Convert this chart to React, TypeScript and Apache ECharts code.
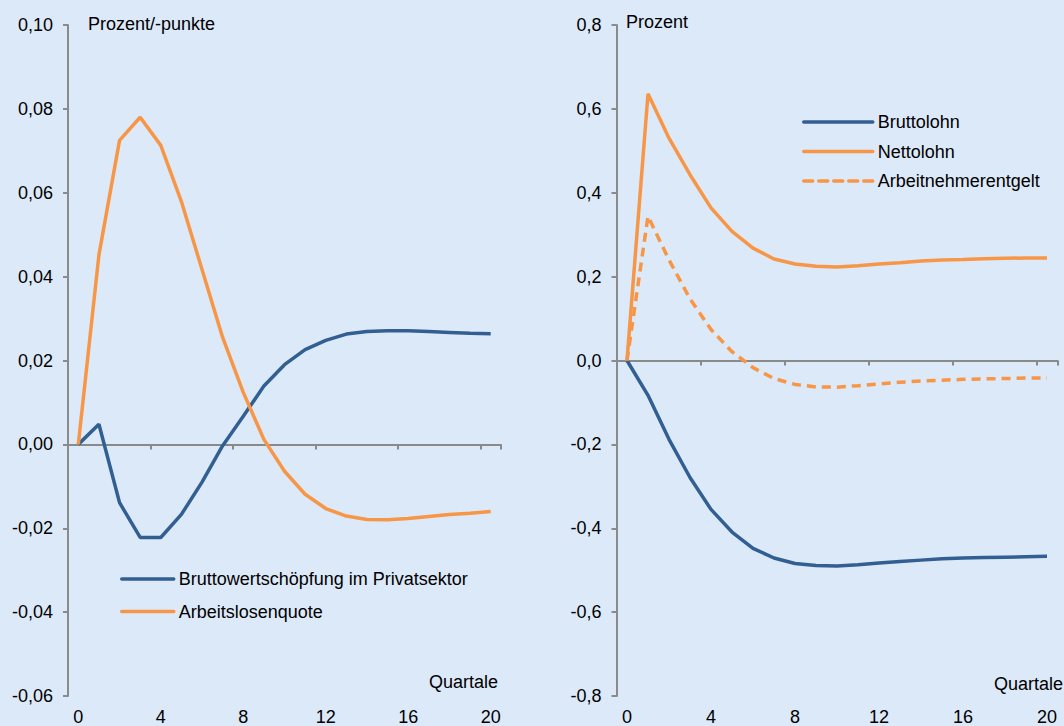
import React, { useEffect, useRef } from "react";
import * as echarts from "echarts";

const quarters = Array.from({ length: 21 }, (_, i) => String(i));

// Left panel (Prozent/-punkte)
const bruttowertschoepfung = [
  0, 0.0048, -0.0139, -0.0222, -0.0222, -0.0167, -0.009, -0.0003, 0.0067, 0.0139,
  0.019, 0.0226, 0.0248, 0.0263, 0.0269, 0.0271, 0.0271, 0.0269, 0.0267, 0.0265, 0.0264,
];
const arbeitslosenquote = [
  0, 0.0452, 0.0725, 0.078, 0.0713, 0.0579, 0.0417, 0.0255, 0.0124, 0.0012,
  -0.0064, -0.0119, -0.0153, -0.0171, -0.0179, -0.018, -0.0177, -0.0172, -0.0167, -0.0164, -0.016,
];

// Right panel (Prozent)
const bruttolohn = [
  0, -0.083, -0.188, -0.279, -0.355, -0.409, -0.448, -0.471, -0.484, -0.489,
  -0.49, -0.487, -0.483, -0.479, -0.476, -0.473, -0.471, -0.47, -0.469, -0.468, -0.467,
];
const nettolohn = [
  0, 0.636, 0.53, 0.443, 0.364, 0.308, 0.268, 0.242, 0.23, 0.2246,
  0.223, 0.226, 0.23, 0.233, 0.237, 0.2397, 0.241, 0.2429, 0.2437, 0.2444, 0.2444,
];
const arbeitnehmerentgelt = [
  0, 0.344, 0.24, 0.147, 0.074, 0.021, -0.017, -0.043, -0.057, -0.063,
  -0.0635, -0.06, -0.056, -0.052, -0.049, -0.047, -0.045, -0.0437, -0.043, -0.042, -0.042,
];

const leftTicks = { min: -0.06, max: 0.1, interval: 0.02 };
const rightTicks = { min: -0.8, max: 0.8, interval: 0.2 };

const BLUE = "#325f92";
const ORANGE = "#f79646";
const AXIS = "#8a8a8a";
const FONT = "Liberation Sans";
const FS = 18;
const LW = 3.5;

export default function App() {
  const ref = useRef<HTMLDivElement>(null);
  useEffect(() => {
    const chart = echarts.init(ref.current!, null, { renderer: "svg" });
    const xAxisLine = (gridIndex: number) => ({
      type: "category",
      gridIndex,
      data: quarters,
      boundaryGap: true,
      axisLine: { show: true, onZero: true, lineStyle: { color: AXIS, width: 2 } },
      axisTick: { show: true, interval: 3, length: 5, lineStyle: { color: AXIS, width: 2 } },
      axisLabel: { show: false },
      splitLine: { show: false },
    });
    const xAxisLabels = (gridIndex: number) => ({
      type: "category",
      gridIndex,
      data: quarters,
      boundaryGap: true,
      position: "bottom",
      axisLine: { show: false, onZero: false },
      axisTick: { show: false },
      axisLabel: { show: true, interval: 3, margin: 12, color: "#000", fontSize: FS, fontFamily: FONT },
      splitLine: { show: false },
    });
    const yAxis = (gridIndex: number, t: { min: number; max: number; interval: number }, dec: number) => ({
      type: "value",
      gridIndex,
      min: t.min,
      max: t.max,
      interval: t.interval,
      axisLine: { show: true, onZero: false, lineStyle: { color: AXIS, width: 2 } },
      axisTick: { show: true, length: 5, lineStyle: { color: AXIS, width: 2 } },
      axisLabel: {
        margin: 15,
        color: "#000",
        fontSize: FS,
        fontFamily: FONT,
        formatter: (v: number) => v.toFixed(dec).replace(".", ","),
      },
      splitLine: { show: false },
    });
    const line = (name: string, data: number[], xi: number, yi: number, color: string, dashed = false) => ({
      type: "line",
      name,
      data,
      xAxisIndex: xi,
      yAxisIndex: yi,
      symbol: "none",
      smooth: false,
      lineStyle: { color, width: LW, type: dashed ? [9, 6] : "solid" },
      itemStyle: { color },
      z: 3,
    });
    const legendBase = {
      orient: "vertical",
      itemHeight: 14,
      padding: 0,
      selectedMode: false,
      itemStyle: { opacity: 0 },
      lineStyle: { width: LW, cap: "round" },
      textStyle: { color: "#000", fontSize: FS, fontFamily: FONT },
    };
    chart.setOption({
      animation: false,
      backgroundColor: "#dce9f8",
      textStyle: { fontFamily: FONT },
      grid: [
        { left: 68, top: 25, width: 433, height: 672, containLabel: false },
        { left: 616.5, top: 25, width: 441, height: 672, containLabel: false },
      ],
      xAxis: [xAxisLine(0), xAxisLabels(0), xAxisLine(1), xAxisLabels(1)],
      yAxis: [yAxis(0, leftTicks, 2), yAxis(1, rightTicks, 1)],
      legend: [
        {
          ...legendBase,
          data: ["Bruttowertschöpfung im Privatsektor", "Arbeitslosenquote"],
          left: 120,
          top: 570,
          itemWidth: 52,
          itemGap: 14.5,
        },
        {
          ...legendBase,
          data: ["Bruttolohn", "Nettolohn", "Arbeitnehmerentgelt"],
          left: 802,
          top: 113,
          itemWidth: 69,
          itemGap: 11.5,
        },
      ],
      graphic: [
        { type: "text", left: 88, top: 15, style: { text: "Prozent/-punkte", fill: "#000", font: `${FS}px ${FONT}` } },
        { type: "text", left: 626, top: 13, style: { text: "Prozent", fill: "#000", font: `${FS}px ${FONT}` } },
        { type: "text", right: 566, top: 673, style: { text: "Quartale", fill: "#000", font: `${FS}px ${FONT}` } },
        { type: "text", right: 1, top: 675, style: { text: "Quartale", fill: "#000", font: `${FS}px ${FONT}` } },
      ],
      series: [
        line("Bruttowertschöpfung im Privatsektor", bruttowertschoepfung, 0, 0, BLUE),
        line("Arbeitslosenquote", arbeitslosenquote, 0, 0, ORANGE),
        line("Bruttolohn", bruttolohn, 2, 1, BLUE),
        line("Nettolohn", nettolohn, 2, 1, ORANGE),
        line("Arbeitnehmerentgelt", arbeitnehmerentgelt, 2, 1, ORANGE, true),
      ],
    });
    return () => chart.dispose();
  }, []);
  return (
    <div
      ref={ref}
      style={{ position: "absolute", left: 0, top: 0, width: 1064, height: 726 }}
    />
  );
}
